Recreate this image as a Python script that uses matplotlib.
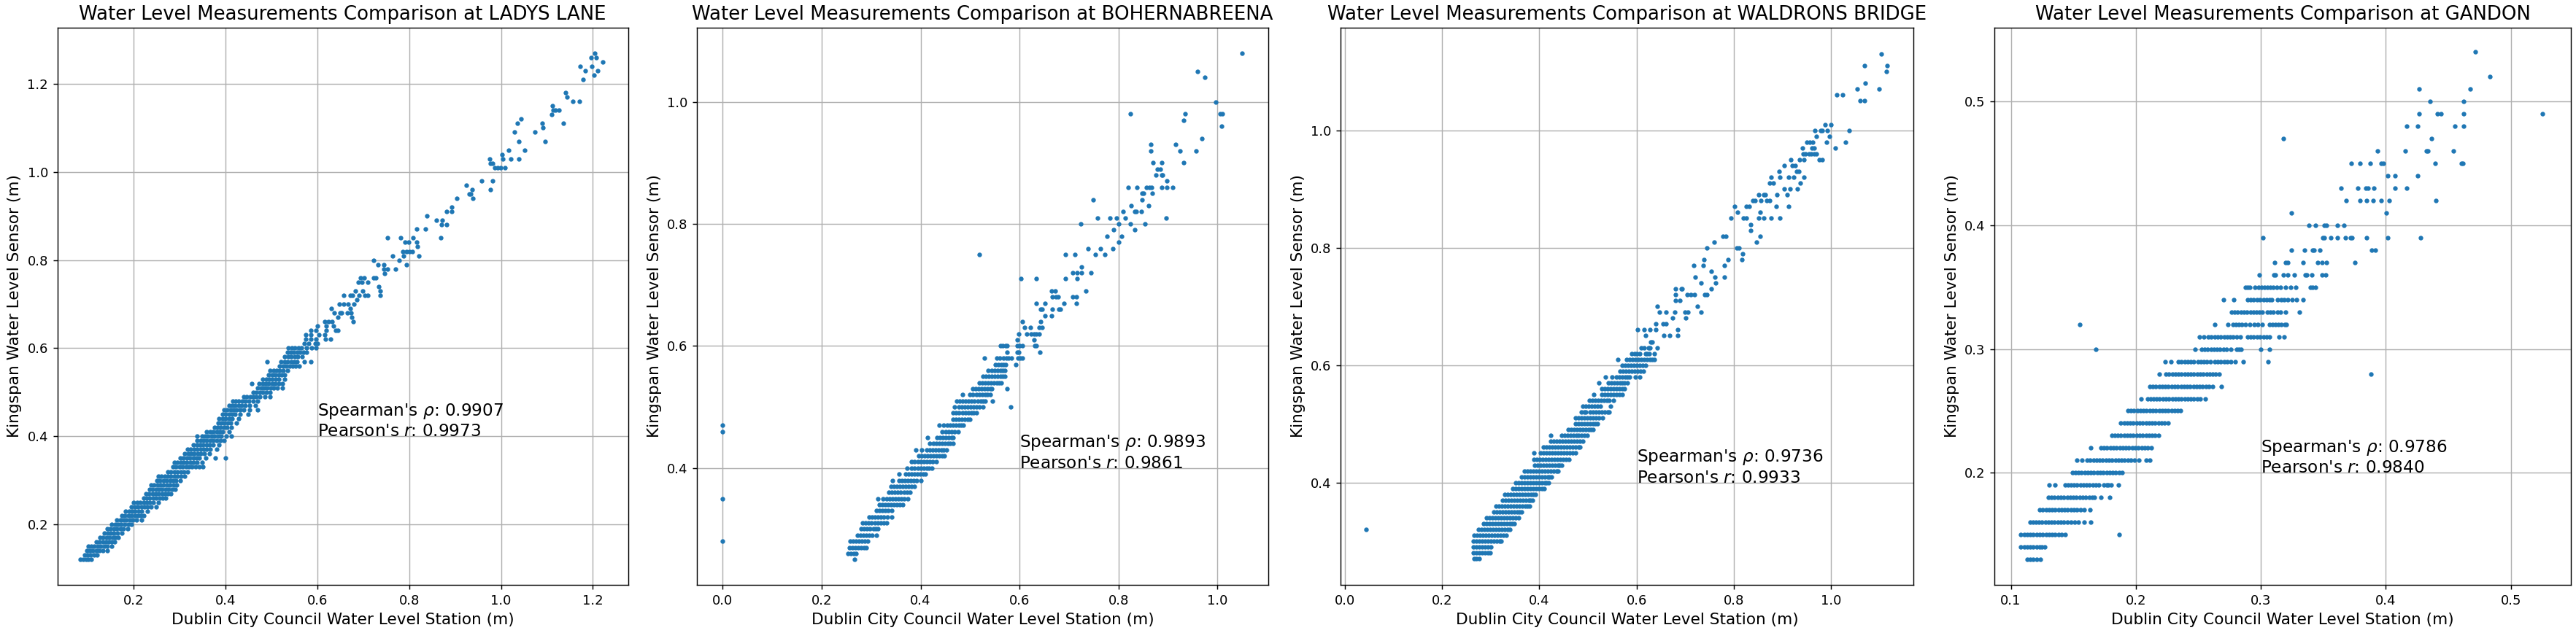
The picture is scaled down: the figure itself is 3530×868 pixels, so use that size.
import matplotlib
matplotlib.use('Agg')
import matplotlib.pyplot as plt

stations = ['LADYS LANE', 'BOHERNABREENA', 'WALDRONS BRIDGE', 'GANDON']
spearman = [0.9907, 0.9893, 0.9736, 0.9786]
pearson = [0.9973, 0.9861, 0.9933, 0.9840]

# each station: kingspan readings come in 0.01 m steps, so points are stored
# per level (y) with the council readings (x) seen at that level
ladys_levels = [0.12, 0.13, 0.14, 0.15, 0.16, 0.17, 0.18, 0.19, 0.20, 0.21, 0.22, 0.23,
                0.24, 0.25, 0.26, 0.27, 0.28, 0.29, 0.30, 0.31, 0.32, 0.33, 0.34, 0.35,
                0.36, 0.37, 0.38, 0.39, 0.40, 0.41, 0.42, 0.43, 0.44, 0.45, 0.46, 0.47,
                0.48, 0.49, 0.50, 0.51, 0.52, 0.53, 0.54, 0.55, 0.56, 0.57, 0.58, 0.59,
                0.60, 0.61, 0.62, 0.63, 0.64, 0.65, 0.66, 0.67, 0.68, 0.69, 0.70, 0.71,
                0.72, 0.73, 0.74, 0.75, 0.76, 0.77, 0.78, 0.79, 0.80, 0.81, 0.82, 0.83,
                0.84, 0.85, 0.87, 0.88, 0.89, 0.90, 0.91, 0.92, 0.94, 0.95, 0.96, 0.97,
                0.98, 1.01, 1.02, 1.03, 1.04, 1.05, 1.07, 1.09, 1.10, 1.11, 1.12, 1.13,
                1.14, 1.15, 1.16, 1.17, 1.18, 1.21, 1.22, 1.23, 1.24, 1.25, 1.26, 1.27]
ladys_x = [
    [0.084, 0.090, 0.096, 0.101, 0.107],
    [0.092, 0.099, 0.106, 0.113, 0.120],
    [0.097, 0.104, 0.111, 0.118, 0.125, 0.133, 0.142],
    [0.100, 0.107, 0.114, 0.121, 0.128, 0.135, 0.142, 0.152],
    [0.118, 0.125, 0.132, 0.139, 0.146, 0.152, 0.158],
    [0.126, 0.133, 0.140, 0.147, 0.154, 0.160, 0.166],
    [0.136, 0.143, 0.150, 0.157, 0.164, 0.174],
    [0.142, 0.149, 0.156, 0.163, 0.170, 0.177, 0.187],
    [0.152, 0.159, 0.166, 0.173, 0.180, 0.188, 0.195],
    [0.163, 0.170, 0.177, 0.184, 0.191, 0.198, 0.205, 0.216],
    [0.174, 0.181, 0.188, 0.195, 0.202, 0.209, 0.215, 0.221],
    [0.182, 0.189, 0.196, 0.203, 0.210, 0.217, 0.229],
    [0.195, 0.202, 0.209, 0.216, 0.223, 0.230, 0.237, 0.248],
    [0.200, 0.207, 0.214, 0.221, 0.228, 0.235, 0.242, 0.253],
    [0.221, 0.228, 0.235, 0.242, 0.249, 0.256, 0.263, 0.269],
    [0.226, 0.233, 0.240, 0.247, 0.254, 0.261, 0.268, 0.274, 0.280],
    [0.234, 0.241, 0.248, 0.255, 0.262, 0.269, 0.276, 0.283, 0.290],
    [0.237, 0.244, 0.251, 0.258, 0.265, 0.272, 0.279, 0.286, 0.293],
    [0.250, 0.257, 0.264, 0.271, 0.278, 0.285, 0.292, 0.301],
    [0.253, 0.260, 0.267, 0.274, 0.281, 0.288, 0.295, 0.302, 0.311],
    [0.274, 0.281, 0.288, 0.295, 0.302, 0.309, 0.317],
    [0.285, 0.292, 0.299, 0.306, 0.313, 0.320, 0.327, 0.334, 0.342, 0.351],
    [0.288, 0.295, 0.302, 0.309, 0.316, 0.323, 0.330, 0.337, 0.348],
    [0.301, 0.308, 0.315, 0.322, 0.329, 0.336, 0.343, 0.356, 0.378, 0.400],
    [0.311, 0.318, 0.325, 0.332, 0.339, 0.346, 0.353, 0.364],
    [0.317, 0.324, 0.331, 0.338, 0.345, 0.352, 0.359, 0.366, 0.380],
    [0.330, 0.337, 0.344, 0.351, 0.358, 0.365, 0.372, 0.385],
    [0.338, 0.345, 0.352, 0.359, 0.366, 0.373, 0.380, 0.388, 0.396],
    [0.338, 0.348, 0.355, 0.362, 0.369, 0.376, 0.383, 0.390, 0.401, 0.412],
    [0.359, 0.366, 0.373, 0.380, 0.387, 0.394, 0.407],
    [0.375, 0.382, 0.389, 0.396, 0.403, 0.412],
    [0.383, 0.390, 0.397, 0.404, 0.411, 0.423],
    [0.386, 0.393, 0.400, 0.407, 0.414, 0.428],
    [0.393, 0.400, 0.407, 0.414, 0.421, 0.432, 0.449],
    [0.396, 0.403, 0.410, 0.417, 0.424, 0.431, 0.440, 0.452, 0.470],
    [0.407, 0.414, 0.421, 0.428, 0.435, 0.442, 0.452, 0.465],
    [0.415, 0.422, 0.429, 0.436, 0.443, 0.450, 0.460, 0.470],
    [0.439, 0.446, 0.453, 0.460, 0.467, 0.474, 0.485, 0.497],
    [0.460, 0.467, 0.474, 0.481, 0.488, 0.497],
    [0.470, 0.477, 0.484, 0.491, 0.498, 0.505, 0.512, 0.523],
    [0.457, 0.473, 0.480, 0.487, 0.494, 0.501, 0.508, 0.515, 0.523],
    [0.481, 0.488, 0.495, 0.502, 0.509, 0.516, 0.529],
    [0.494, 0.501, 0.508, 0.515, 0.522, 0.529],
    [0.497, 0.504, 0.511, 0.518, 0.525, 0.534],
    [0.518, 0.525, 0.532, 0.539, 0.546, 0.553, 0.560],
    [0.491, 0.521, 0.528, 0.535, 0.542, 0.549, 0.556, 0.571, 0.586],
    [0.529, 0.536, 0.543, 0.550, 0.557, 0.566],
    [0.534, 0.541, 0.548, 0.555, 0.562, 0.569, 0.576],
    [0.537, 0.544, 0.551, 0.558, 0.565, 0.576, 0.587, 0.597],
    [0.571, 0.581, 0.595, 0.600],
    [0.574, 0.586, 0.597, 0.618, 0.629],
    [0.575, 0.586, 0.603, 0.616],
    [0.586, 0.597, 0.619, 0.640, 0.645],
    [0.600, 0.619, 0.635],
    [0.616, 0.624, 0.632, 0.678],
    [0.645, 0.674],
    [0.637, 0.649, 0.653, 0.665, 0.673],
    [0.630, 0.672],
    [0.648, 0.657, 0.666, 0.680],
    [0.685],
    [0.657, 0.672, 0.677, 0.691, 0.703, 0.709, 0.737],
    [0.682, 0.699, 0.737],
    [0.734],
    [0.689, 0.697, 0.710],
    [0.694, 0.702, 0.723, 0.727],
    [0.746],
    [0.745, 0.752, 0.770],
    [0.732, 0.745, 0.794],
    [0.723, 0.778],
    [0.764, 0.787, 0.821],
    [0.786, 0.794, 0.800, 0.807],
    [0.818],
    [0.791, 0.799, 0.816],
    [0.752, 0.781, 0.808, 0.868],
    [0.816, 0.836],
    [0.870, 0.882],
    [0.859, 0.872],
    [0.839],
    [0.881, 0.893],
    [0.893],
    [0.903, 0.938],
    [0.930, 0.934],
    [0.937, 0.976],
    [0.925],
    [0.958, 0.981],
    [0.986, 0.992, 0.999, 1.009],
    [0.976, 0.981],
    [0.975, 1.004, 1.021, 1.038],
    [1.002],
    [1.016, 1.052],
    [1.038, 1.096],
    [1.029, 1.073],
    [1.091],
    [1.036, 1.089, 1.135],
    [1.043],
    [1.110],
    [1.114, 1.119, 1.126],
    [1.112],
    [1.156, 1.170],
    [1.143],
    [1.141],
    [1.178],
    [1.202],
    [1.183, 1.210],
    [1.173, 1.198],
    [1.222],
    [1.196, 1.208],
    [1.204],
]

boher_levels = [0.25, 0.26, 0.27, 0.28, 0.29, 0.30, 0.31, 0.32, 0.33, 0.34, 0.35, 0.36,
                0.37, 0.38, 0.39, 0.40, 0.41, 0.42, 0.43, 0.44, 0.45, 0.46, 0.47, 0.48,
                0.49, 0.50, 0.51, 0.52, 0.53, 0.54, 0.55, 0.56, 0.57, 0.58, 0.59, 0.60,
                0.61, 0.62, 0.63, 0.64, 0.65, 0.66, 0.67, 0.68, 0.69, 0.71, 0.72, 0.73,
                0.75, 0.76, 0.77, 0.78, 0.79, 0.80, 0.81, 0.82, 0.83, 0.84, 0.85, 0.86,
                0.87, 0.88, 0.89, 0.90, 0.92, 0.93, 0.94, 0.96, 0.97, 0.98, 1.00, 1.04,
                1.05, 1.08]
boher_x = [
    [0.266],
    [0.253, 0.259, 0.265, 0.270],
    [0.256, 0.262, 0.268, 0.274, 0.280, 0.285, 0.290],
    [0.000, 0.257, 0.263, 0.269, 0.275, 0.281, 0.287, 0.293],
    [0.272, 0.278, 0.284, 0.290, 0.296, 0.302, 0.310],
    [0.280, 0.286, 0.292, 0.298, 0.304, 0.309, 0.314],
    [0.283, 0.289, 0.295, 0.301, 0.307, 0.313, 0.319, 0.325, 0.331],
    [0.296, 0.302, 0.308, 0.314, 0.320, 0.326, 0.332, 0.341],
    [0.310, 0.316, 0.322, 0.328, 0.334, 0.342],
    [0.316, 0.322, 0.328, 0.334, 0.340, 0.346, 0.352, 0.358, 0.363],
    [0.000, 0.314, 0.324, 0.331, 0.337, 0.343, 0.349, 0.355, 0.361, 0.367, 0.374],
    [0.336, 0.342, 0.348, 0.354, 0.360, 0.366, 0.372, 0.379],
    [0.340, 0.346, 0.352, 0.358, 0.364, 0.370, 0.376, 0.382, 0.388],
    [0.343, 0.356, 0.362, 0.368, 0.374, 0.380, 0.386, 0.392, 0.400],
    [0.357, 0.369, 0.375, 0.381, 0.387, 0.393, 0.399, 0.405, 0.410],
    [0.372, 0.382, 0.388, 0.394, 0.400, 0.406, 0.412, 0.417, 0.422],
    [0.382, 0.388, 0.394, 0.400, 0.406, 0.412, 0.418, 0.424, 0.431],
    [0.396, 0.402, 0.408, 0.414, 0.420, 0.426, 0.432, 0.438, 0.443, 0.448],
    [0.390, 0.402, 0.412, 0.418, 0.424, 0.430, 0.436, 0.442, 0.447, 0.452],
    [0.419, 0.425, 0.431, 0.437, 0.443, 0.449, 0.455, 0.460, 0.465],
    [0.414, 0.433, 0.439, 0.445, 0.451, 0.457, 0.462, 0.466],
    [0.000, 0.444, 0.450, 0.456, 0.462, 0.468, 0.476],
    [0.000, 0.437, 0.447, 0.453, 0.459, 0.465, 0.471, 0.477, 0.482, 0.486],
    [0.465, 0.471, 0.477, 0.483, 0.489, 0.495, 0.500],
    [0.466, 0.472, 0.478, 0.484, 0.490, 0.496, 0.502, 0.507, 0.512],
    [0.469, 0.477, 0.483, 0.489, 0.495, 0.501, 0.507, 0.513, 0.519, 0.526, 0.582],
    [0.473, 0.479, 0.485, 0.491, 0.497, 0.503, 0.509, 0.515, 0.521, 0.526, 0.531, 0.545],
    [0.485, 0.500, 0.506, 0.512, 0.518, 0.524, 0.530, 0.535, 0.540],
    [0.505, 0.511, 0.517, 0.523, 0.529, 0.535, 0.540, 0.544, 0.574],
    [0.518, 0.524, 0.530, 0.536, 0.542, 0.548, 0.554, 0.559, 0.563],
    [0.526, 0.532, 0.538, 0.544, 0.550, 0.556, 0.562, 0.566, 0.570],
    [0.537, 0.543, 0.549, 0.555, 0.561, 0.566, 0.570],
    [0.551, 0.557, 0.563, 0.567, 0.571, 0.592],
    [0.529, 0.554, 0.560, 0.567, 0.573, 0.578, 0.583, 0.597, 0.601, 0.605],
    [0.574, 0.595, 0.598, 0.641],
    [0.561, 0.566, 0.572, 0.575, 0.595, 0.600, 0.605, 0.631, 0.633],
    [0.595, 0.629],
    [0.598, 0.615, 0.624, 0.629, 0.633, 0.639],
    [0.610, 0.622, 0.639, 0.646],
    [0.606, 0.643],
    [0.652, 0.665],
    [0.642, 0.645, 0.666, 0.679, 0.682],
    [0.633, 0.652, 0.689, 0.715],
    [0.666, 0.673, 0.678, 0.707, 0.715],
    [0.665, 0.672, 0.734],
    [0.603, 0.633, 0.692, 0.716],
    [0.708, 0.716, 0.725, 0.745],
    [0.725],
    [0.518, 0.692, 0.712, 0.753, 0.773],
    [0.738, 0.764, 0.789],
    [0.801],
    [0.777, 0.806],
    [0.790, 0.833],
    [0.723, 0.801, 0.824, 0.853],
    [0.757, 0.782, 0.796, 0.814, 0.896],
    [0.809, 0.833, 0.836, 0.846],
    [0.825, 0.861],
    [0.749, 0.847],
    [0.847, 0.851, 0.868],
    [0.820, 0.837, 0.857, 0.862, 0.867, 0.887, 0.898, 0.910],
    [0.898],
    [0.876, 0.887, 0.889],
    [0.878, 0.885],
    [0.870, 0.887, 0.931],
    [0.866, 0.925, 0.956],
    [0.866, 0.915],
    [0.968],
    [1.009],
    [0.932],
    [0.824, 0.934, 1.005, 1.010],
    [0.997],
    [0.974],
    [0.959],
    [1.050],
]

waldron_levels = [0.27, 0.28, 0.29, 0.30, 0.31, 0.32, 0.33, 0.34, 0.35, 0.36, 0.37, 0.38,
                  0.39, 0.40, 0.41, 0.42, 0.43, 0.44, 0.45, 0.46, 0.47, 0.48, 0.49, 0.50,
                  0.51, 0.52, 0.53, 0.54, 0.55, 0.56, 0.57, 0.58, 0.59, 0.60, 0.61, 0.62,
                  0.63, 0.64, 0.65, 0.66, 0.67, 0.68, 0.69, 0.70, 0.71, 0.72, 0.73, 0.74,
                  0.75, 0.76, 0.77, 0.78, 0.79, 0.80, 0.81, 0.82, 0.83, 0.84, 0.85, 0.86,
                  0.87, 0.88, 0.89, 0.90, 0.91, 0.92, 0.93, 0.94, 0.95, 0.96, 0.97, 0.98,
                  0.99, 1.00, 1.01, 1.05, 1.06, 1.07, 1.08, 1.10, 1.11, 1.13]
waldron_x = [
    [0.266, 0.271, 0.277],
    [0.264, 0.270, 0.276, 0.282, 0.288, 0.294, 0.299],
    [0.264, 0.270, 0.276, 0.282, 0.288, 0.294, 0.300],
    [0.265, 0.271, 0.277, 0.283, 0.289, 0.295, 0.301, 0.307, 0.313, 0.318, 0.322],
    [0.266, 0.272, 0.278, 0.284, 0.290, 0.296, 0.302, 0.308, 0.314, 0.320, 0.326, 0.332],
    [0.044, 0.275, 0.281, 0.287, 0.293, 0.299, 0.305, 0.311, 0.317, 0.323, 0.329, 0.335, 0.340],
    [0.285, 0.291, 0.297, 0.303, 0.309, 0.315, 0.321, 0.327, 0.333, 0.339, 0.344, 0.349],
    [0.292, 0.298, 0.304, 0.310, 0.316, 0.322, 0.328, 0.334, 0.340, 0.346, 0.352, 0.357],
    [0.306, 0.312, 0.318, 0.324, 0.330, 0.336, 0.342, 0.348, 0.354, 0.359, 0.364],
    [0.311, 0.317, 0.323, 0.329, 0.335, 0.341, 0.347, 0.353, 0.359, 0.365, 0.371, 0.376, 0.380],
    [0.324, 0.330, 0.336, 0.342, 0.348, 0.354, 0.360, 0.366, 0.372, 0.378, 0.382, 0.386],
    [0.329, 0.335, 0.341, 0.347, 0.353, 0.359, 0.365, 0.371, 0.377, 0.383, 0.388, 0.392],
    [0.345, 0.351, 0.357, 0.363, 0.369, 0.375, 0.381, 0.387, 0.393, 0.399, 0.405, 0.410],
    [0.351, 0.357, 0.363, 0.369, 0.375, 0.381, 0.387, 0.393, 0.399, 0.405, 0.411, 0.415, 0.419],
    [0.363, 0.369, 0.375, 0.381, 0.387, 0.393, 0.399, 0.405, 0.411, 0.417, 0.421, 0.425],
    [0.370, 0.376, 0.382, 0.388, 0.394, 0.400, 0.406, 0.412, 0.418, 0.424, 0.430, 0.435, 0.439],
    [0.390, 0.396, 0.402, 0.408, 0.414, 0.420, 0.426, 0.432, 0.438, 0.442, 0.446],
    [0.389, 0.395, 0.401, 0.407, 0.413, 0.419, 0.425, 0.431, 0.437, 0.443, 0.449, 0.455, 0.461],
    [0.389, 0.402, 0.408, 0.414, 0.420, 0.426, 0.432, 0.438, 0.444, 0.450, 0.456, 0.462, 0.468, 0.475],
    [0.409, 0.415, 0.421, 0.427, 0.433, 0.439, 0.445, 0.451, 0.457, 0.463, 0.469, 0.475, 0.480, 0.484],
    [0.423, 0.429, 0.435, 0.441, 0.447, 0.453, 0.459, 0.465, 0.471, 0.477, 0.483, 0.490],
    [0.424, 0.446, 0.452, 0.458, 0.464, 0.470, 0.476, 0.480, 0.487, 0.493, 0.499],
    [0.460, 0.466, 0.472, 0.478, 0.484, 0.490, 0.496, 0.502, 0.506, 0.510],
    [0.474, 0.480, 0.486, 0.492, 0.498, 0.504, 0.510, 0.515, 0.519],
    [0.475, 0.481, 0.487, 0.493, 0.499, 0.505, 0.511, 0.517, 0.523, 0.530],
    [0.487, 0.492, 0.496, 0.505, 0.511, 0.517, 0.523, 0.529, 0.535, 0.540, 0.544],
    [0.490, 0.496, 0.502, 0.508, 0.514, 0.520, 0.525, 0.547],
    [0.503, 0.509, 0.515, 0.521, 0.527, 0.533, 0.539, 0.544, 0.552],
    [0.512, 0.528, 0.534, 0.540, 0.546, 0.552, 0.558, 0.564, 0.571],
    [0.529, 0.535, 0.541, 0.547, 0.553, 0.559, 0.565, 0.570, 0.575],
    [0.522, 0.542, 0.548, 0.554, 0.560, 0.566, 0.571, 0.575, 0.581],
    [0.536, 0.550, 0.559, 0.565, 0.571, 0.576, 0.581, 0.586, 0.597, 0.606],
    [0.566, 0.572, 0.578, 0.584, 0.590, 0.596, 0.602, 0.608, 0.614],
    [0.570, 0.576, 0.582, 0.588, 0.594, 0.600, 0.606, 0.612, 0.619],
    [0.561, 0.579, 0.585, 0.591, 0.597, 0.603, 0.609, 0.615, 0.621, 0.627, 0.632, 0.636],
    [0.590, 0.596, 0.601, 0.606, 0.618, 0.622, 0.626, 0.636],
    [0.609, 0.616, 0.624, 0.628, 0.643],
    [0.629, 0.632],
    [0.619, 0.656, 0.668, 0.685],
    [0.602, 0.616, 0.628, 0.639, 0.685],
    [0.640, 0.654, 0.660],
    [0.674, 0.701],
    [0.647, 0.661, 0.678, 0.699, 0.706, 0.732],
    [0.643, 0.725],
    [0.680, 0.689],
    [0.680, 0.704, 0.711, 0.719, 0.740, 0.744],
    [0.680, 0.692, 0.694, 0.753],
    [0.733, 0.762],
    [0.721, 0.761, 0.780],
    [0.754],
    [0.718, 0.737, 0.780],
    [0.739, 0.788, 0.817],
    [0.818],
    [0.744, 0.806, 0.811],
    [0.760, 0.846],
    [0.778, 0.784, 0.854],
    [0.835],
    [0.835],
    [0.794, 0.820, 0.825, 0.851, 0.862, 0.876, 0.894],
    [0.808, 0.854],
    [0.801, 0.825, 0.831, 0.887, 0.913],
    [0.839, 0.843, 0.855, 0.867, 0.873],
    [0.851, 0.861, 0.865, 0.888, 0.910],
    [0.903, 0.915, 0.930],
    [0.874, 0.881, 0.936],
    [0.876, 0.894, 0.912, 0.923, 0.944],
    [0.893, 0.929, 0.934],
    [0.903, 0.920, 0.926],
    [0.917, 0.935, 0.944, 0.976, 0.981],
    [0.942, 0.947, 0.954, 0.959, 0.965, 0.970],
    [0.941, 0.960, 0.965, 1.008],
    [0.950, 0.956, 0.962, 0.990, 1.030],
    [0.970, 0.996],
    [0.967, 0.979, 0.982, 0.992, 1.037],
    [0.988, 1.000],
    [1.060, 1.069],
    [1.011, 1.024],
    [1.053, 1.098],
    [1.070],
    [1.114],
    [1.068, 1.115],
    [1.103],
]

gandon_levels = [0.13, 0.14, 0.15, 0.16, 0.17, 0.18, 0.19, 0.20, 0.21, 0.22, 0.23, 0.24,
                 0.25, 0.26, 0.27, 0.28, 0.29, 0.30, 0.31, 0.32, 0.33, 0.34, 0.35, 0.36,
                 0.37, 0.38, 0.39, 0.40, 0.41, 0.42, 0.43, 0.44, 0.45, 0.46, 0.47, 0.48,
                 0.49, 0.50, 0.51, 0.52, 0.54]
gandon_x = [
    [0.113, 0.1155, 0.118, 0.1205, 0.1235],
    [0.108, 0.1105, 0.113, 0.1155, 0.118, 0.1205, 0.123, 0.125, 0.1274],
    [0.108, 0.1105, 0.113, 0.1155, 0.118, 0.1205, 0.123, 0.1255, 0.128, 0.1305, 0.133,
     0.1355, 0.138, 0.1405, 0.1434, 0.1868],
    [0.1152, 0.1177, 0.120, 0.1225, 0.125, 0.1275, 0.130, 0.1325, 0.135, 0.1375, 0.140,
     0.1425, 0.145, 0.148, 0.151, 0.154, 0.1586, 0.164],
    [0.123, 0.1255, 0.128, 0.1305, 0.133, 0.1355, 0.138, 0.1405, 0.143, 0.1455, 0.148,
     0.1505, 0.153, 0.1555, 0.1586, 0.1632],
    [0.130, 0.1325, 0.135, 0.1375, 0.140, 0.1425, 0.145, 0.1475, 0.150, 0.1525, 0.155,
     0.1575, 0.160, 0.1625, 0.165, 0.167, 0.172, 0.1791],
    [0.1307, 0.1352, 0.1432, 0.1457, 0.148, 0.1505, 0.153, 0.1555, 0.158, 0.1605, 0.163,
     0.1655, 0.168, 0.1705, 0.1742, 0.1765, 0.178, 0.180, 0.186],
    [0.1492, 0.1517, 0.154, 0.1565, 0.159, 0.1615, 0.164, 0.1665, 0.169, 0.1715, 0.174,
     0.1765, 0.179, 0.1815, 0.184, 0.1865, 0.189],
    [0.153, 0.157, 0.1609, 0.1634, 0.166, 0.1685, 0.171, 0.1735, 0.176, 0.1785, 0.181,
     0.1835, 0.186, 0.1885, 0.191, 0.1935, 0.196, 0.199, 0.2023, 0.208, 0.211],
    [0.164, 0.172, 0.1745, 0.177, 0.1795, 0.182, 0.1845, 0.187, 0.1895, 0.192, 0.1945,
     0.197, 0.1995, 0.202, 0.2045, 0.207, 0.2095, 0.2125],
    [0.1807, 0.1832, 0.1857, 0.188, 0.1905, 0.193, 0.1955, 0.198, 0.2005, 0.203, 0.2055,
     0.208, 0.2105, 0.213, 0.2155, 0.2183],
    [0.1881, 0.1906, 0.193, 0.1955, 0.198, 0.2005, 0.203, 0.2055, 0.208, 0.2105, 0.213,
     0.2155, 0.218, 0.2205, 0.223, 0.2255],
    [0.1936, 0.196, 0.1985, 0.201, 0.2035, 0.206, 0.2085, 0.211, 0.2135, 0.216, 0.2185,
     0.221, 0.2235, 0.226, 0.2285, 0.231, 0.2335, 0.2358],
    [0.2041, 0.2092, 0.2117, 0.214, 0.2165, 0.219, 0.2215, 0.224, 0.2265, 0.229, 0.2315,
     0.234, 0.2365, 0.239, 0.2415, 0.244, 0.2465, 0.249, 0.2515, 0.2553],
    [0.2111, 0.2136, 0.216, 0.2185, 0.221, 0.2235, 0.226, 0.2285, 0.231, 0.2335, 0.236,
     0.2385, 0.241, 0.2435, 0.246, 0.2485, 0.251, 0.2535, 0.256, 0.2585, 0.2611, 0.2683],
    [0.2189, 0.2241, 0.2266, 0.229, 0.2315, 0.234, 0.2365, 0.239, 0.2415, 0.244, 0.2465,
     0.249, 0.2515, 0.254, 0.2565, 0.259, 0.2615, 0.264, 0.2669, 0.388],
    [0.2235, 0.2279, 0.2338, 0.2363, 0.239, 0.2415, 0.244, 0.2465, 0.2495, 0.252, 0.2545,
     0.257, 0.2595, 0.263, 0.2656, 0.268, 0.2705, 0.273, 0.2757, 0.2796, 0.2858, 0.3055],
    [0.168, 0.2475, 0.2524, 0.255, 0.2575, 0.260, 0.2625, 0.265, 0.2675, 0.270, 0.2725,
     0.2757, 0.2805, 0.2825, 0.2844, 0.2999, 0.3068],
    [0.251, 0.2543, 0.258, 0.2605, 0.263, 0.2655, 0.268, 0.2705, 0.273, 0.2755, 0.278,
     0.2805, 0.2834, 0.2893, 0.2918, 0.2943, 0.2968, 0.2993, 0.302, 0.3045, 0.3068,
     0.3146, 0.3187],
    [0.155, 0.2631, 0.2737, 0.2776, 0.280, 0.2825, 0.285, 0.2875, 0.291, 0.2948, 0.2975,
     0.301, 0.3068, 0.309, 0.3115, 0.314, 0.3165, 0.319, 0.3205],
    [0.2766, 0.279, 0.2815, 0.284, 0.2865, 0.289, 0.2915, 0.294, 0.2965, 0.299, 0.301,
     0.3053, 0.3075, 0.3097, 0.3136, 0.3156, 0.3195, 0.3306],
    [0.2699, 0.2786, 0.2893, 0.2918, 0.2943, 0.2968, 0.2993, 0.302, 0.3045, 0.307, 0.3088,
     0.3136, 0.316, 0.3185, 0.3218, 0.3253, 0.3288, 0.3337],
    [0.2874, 0.2893, 0.2912, 0.2951, 0.298, 0.3005, 0.303, 0.3049, 0.3078, 0.310, 0.3125,
     0.3156, 0.3195, 0.3238, 0.3279, 0.3395, 0.3415, 0.3438],
    [0.2986, 0.3107, 0.3117, 0.318, 0.3218, 0.3267, 0.3356, 0.3366, 0.3407, 0.3487, 0.3518],
    [0.3109, 0.3195, 0.3214, 0.3337, 0.3454, 0.3487, 0.3526, 0.3755],
    [0.3247, 0.3349, 0.3415, 0.3428, 0.3475, 0.3886, 0.3915],
    [0.3016, 0.3496, 0.351, 0.3557, 0.3615, 0.3676, 0.3716, 0.373, 0.3845, 0.4016, 0.4277],
    [0.3387, 0.3436, 0.3506, 0.3522, 0.3615, 0.3666],
    [0.3247, 0.4004],
    [0.3685, 0.3796, 0.3845, 0.3897, 0.3963, 0.4024, 0.4403],
    [0.3644, 0.3775, 0.3837, 0.3856, 0.3905, 0.4074, 0.4164],
    [0.4014, 0.4074, 0.4255],
    [0.3726, 0.3796, 0.3876, 0.3965, 0.3979, 0.4394, 0.4602, 0.4617],
    [0.3934, 0.4154, 0.4323, 0.4337, 0.4543],
    [0.318, 0.4366],
    [0.4164, 0.4255, 0.4555, 0.4625],
    [0.4265, 0.4411, 0.444, 0.4625, 0.5254],
    [0.4353, 0.4625],
    [0.4265, 0.4674],
    [0.4833],
    [0.4713],
]

all_levels = [ladys_levels, boher_levels, waldron_levels, gandon_levels]
all_x = [ladys_x, boher_x, waldron_x, gandon_x]

fig = plt.figure(figsize=(3530 / 130, 868 / 130), dpi=130)
# axes boxes in figure fractions, plus limits and stats label anchor
boxes = [[0.0223, 0.0760, 0.2215, 0.8802],
         [0.2705, 0.0760, 0.2218, 0.8802],
         [0.5204, 0.0760, 0.2223, 0.8802],
         [0.7743, 0.0760, 0.2237, 0.8802]]
xlims = [(0.0335, 1.2766), (-0.0525, 1.1025), (-0.0085, 1.1685), (0.087, 0.548)]
ylims = [(0.0625, 1.3275), (0.2085, 1.1215), (0.2257, 1.1748), (0.1094, 0.5597)]
anchors = [(0.6, 0.4), (0.6, 0.4), (0.6, 0.4), (0.3, 0.2)]

for i in range(4):
    ax = fig.add_axes(boxes[i])
    xs = [x for row in all_x[i] for x in row]
    ys = [lv for lv, row in zip(all_levels[i], all_x[i]) for _ in row]
    ax.plot(xs, ys, '.', color='#1f77b4', markersize=5)
    ax.set_xlim(*xlims[i])
    ax.set_ylim(*ylims[i])
    ax.grid(True)
    ax.tick_params(labelsize=10)
    ax.set_title('Water Level Measurements Comparison at ' + stations[i], fontsize=14.4)
    ax.set_xlabel('Dublin City Council Water Level Station (m)', fontsize=12)
    ax.set_ylabel('Kingspan Water Level Sensor (m)', fontsize=12)
    ax.text(anchors[i][0], anchors[i][1],
            "Spearman's $\\rho$: %.4f\nPearson's $r$: %.4f" % (spearman[i], pearson[i]),
            fontsize=12.8)

fig.savefig('out.png', dpi=130)
